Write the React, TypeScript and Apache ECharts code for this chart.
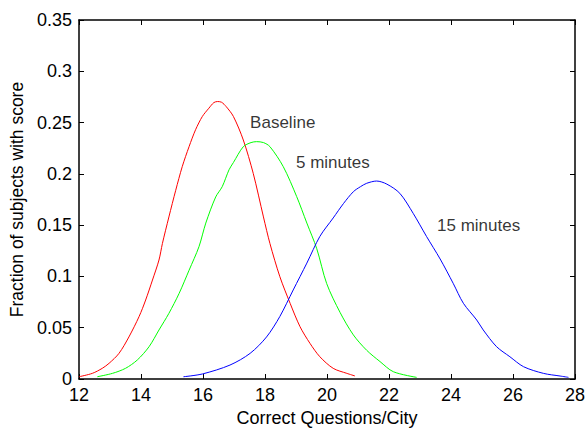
import React, { useEffect, useRef } from "react";
import * as echarts from "echarts";

const baselineX = [12, 12.43, 12.75, 12.97, 13.29, 13.61, 13.94, 14.15, 14.37, 14.58, 14.69, 14.9, 15.12, 15.33, 15.55, 15.76, 15.98, 16.19, 16.35, 16.47, 16.6, 16.75, 16.98, 17.3, 17.62, 17.95, 18.16, 18.48, 18.81, 19.13, 19.45, 19.77, 20.2, 20.64, 20.9];
const baselineY = [0.0022, 0.0055, 0.0104, 0.0153, 0.025, 0.041, 0.061, 0.077, 0.0965, 0.116, 0.132, 0.158, 0.184, 0.207, 0.2265, 0.243, 0.256, 0.264, 0.2695, 0.2705, 0.2698, 0.2655, 0.256, 0.233, 0.2005, 0.158, 0.132, 0.0997, 0.0738, 0.051, 0.0348, 0.0217, 0.0104, 0.0055, 0.003];

const fiveX = [12.59, 13.08, 13.5, 13.88, 14.26, 14.58, 14.9, 15.23, 15.55, 15.87, 16.09, 16.41, 16.62, 16.84, 16.98, 17.3, 17.55, 17.73, 17.95, 18.16, 18.59, 19.02, 19.35, 19.67, 19.99, 20.42, 20.85, 21.28, 21.71, 22.14, 22.89];
const fiveY = [0.0022, 0.0055, 0.0104, 0.0185, 0.0315, 0.0478, 0.064, 0.0835, 0.106, 0.129, 0.152, 0.1775, 0.1875, 0.204, 0.211, 0.2265, 0.2305, 0.2314, 0.2305, 0.2265, 0.207, 0.178, 0.152, 0.127, 0.093, 0.065, 0.043, 0.028, 0.017, 0.0071, 0.0016];

const fifteenX = [15.37, 15.98, 16.87, 17.52, 18.05, 18.48, 18.91, 19.35, 19.77, 20.2, 20.53, 20.85, 21.08, 21.28, 21.6, 21.93, 22.35, 22.78, 23.21, 23.65, 24.07, 24.4, 24.83, 25.04, 25.47, 25.9, 26.34, 26.98, 27.52, 27.79];
const fifteenY = [0.0022, 0.0049, 0.0136, 0.025, 0.041, 0.061, 0.0868, 0.113, 0.139, 0.157, 0.171, 0.1826, 0.1875, 0.1908, 0.193, 0.19, 0.181, 0.1615, 0.139, 0.117, 0.0933, 0.0738, 0.0575, 0.0478, 0.0315, 0.0217, 0.012, 0.0055, 0.0029, 0.0016];

const xTicks = [12, 14, 16, 18, 20, 22, 24, 26, 28];
const yTicks = [0, 0.05, 0.1, 0.15, 0.2, 0.25, 0.3, 0.35];

const labelTexts = ["Baseline", "5 minutes", "15 minutes"];
const labelX = [17.52, 19.0, 23.55];
const labelY = [0.2505, 0.211, 0.15];

const FONT = "'Liberation Sans', Arial, Helvetica, sans-serif";

function zip(xs: number[], ys: number[]) {
  return xs.map((x, i) => [x, ys[i]]);
}

export default function App() {
  const ref = useRef<HTMLDivElement>(null);
  useEffect(() => {
    if (!ref.current) return;
    const chart = echarts.init(ref.current, null, { renderer: "svg" });
    const axisCommon = {
      type: "value" as const,
      axisLine: { show: true, onZero: false, lineStyle: { color: "#000", width: 1.5 } },
      axisTick: { show: true, inside: true, length: 5, lineStyle: { color: "#000" } },
      splitLine: { show: false },
    };
    const labelStyle = { color: "#000", fontFamily: FONT, fontSize: 18 };
    chart.setOption({
      animation: false,
      backgroundColor: "#fff",
      grid: { left: 79, top: 20, right: 12, bottom: 49, containLabel: false, outerBoundsMode: "none" },
      xAxis: [
        {
          ...axisCommon,
          min: 12,
          max: 28,
          interval: 2,
          position: "bottom",
          axisLabel: { ...labelStyle, margin: 7, formatter: (v: number) => (xTicks.includes(v) ? String(v) : "") },
          name: "Correct Questions/City",
          nameLocation: "middle",
          nameGap: 29,
          nameTextStyle: { ...labelStyle, lineHeight: 18 },
        },
        {
          ...axisCommon,
          min: 12,
          max: 28,
          interval: 2,
          position: "top",
          axisLabel: { show: false },
        },
      ],
      yAxis: [
        {
          ...axisCommon,
          min: 0,
          max: 0.35,
          interval: 0.05,
          position: "left",
          axisLabel: {
            ...labelStyle,
            margin: 7,
            formatter: (v: number) => {
              const r = parseFloat(v.toFixed(2));
              return yTicks.some((t) => Math.abs(t - r) < 1e-9) ? String(r) : "";
            },
          },
          name: "Fraction of subjects with score",
          nameLocation: "middle",
          nameGap: 48,
          nameTextStyle: { ...labelStyle, fontSize: 17.5 },
        },
        {
          ...axisCommon,
          min: 0,
          max: 0.35,
          interval: 0.05,
          position: "right",
          axisLabel: { show: false },
        },
      ],
      series: [
        {
          type: "line",
          data: zip(baselineX, baselineY),
          showSymbol: false,
          smooth: 0.3,
          lineStyle: { color: "#ff0000", width: 1 },
          itemStyle: { color: "#ff0000" },
        },
        {
          type: "line",
          data: zip(fiveX, fiveY),
          showSymbol: false,
          smooth: 0.3,
          lineStyle: { color: "#00ff00", width: 1 },
          itemStyle: { color: "#00ff00" },
        },
        {
          type: "line",
          data: zip(fifteenX, fifteenY),
          showSymbol: false,
          smooth: 0.3,
          lineStyle: { color: "#0000ff", width: 1 },
          itemStyle: { color: "#0000ff" },
        },
        {
          type: "scatter",
          data: labelTexts.map((t, i) => ({ value: [labelX[i], labelY[i]], name: t })),
          symbolSize: 0,
          itemStyle: { color: "transparent" },
          label: {
            show: true,
            position: "right",
            distance: 0,
            formatter: (p: any) => p.name,
            ...labelStyle,
            fontSize: 17,
          },
          silent: true,
        },
      ],
    });
    return () => chart.dispose();
  }, []);
  return (
    <div
      ref={ref}
      style={{ position: "fixed", left: 0, top: 0, width: 587, height: 428, background: "#fff" }}
    />
  );
}
